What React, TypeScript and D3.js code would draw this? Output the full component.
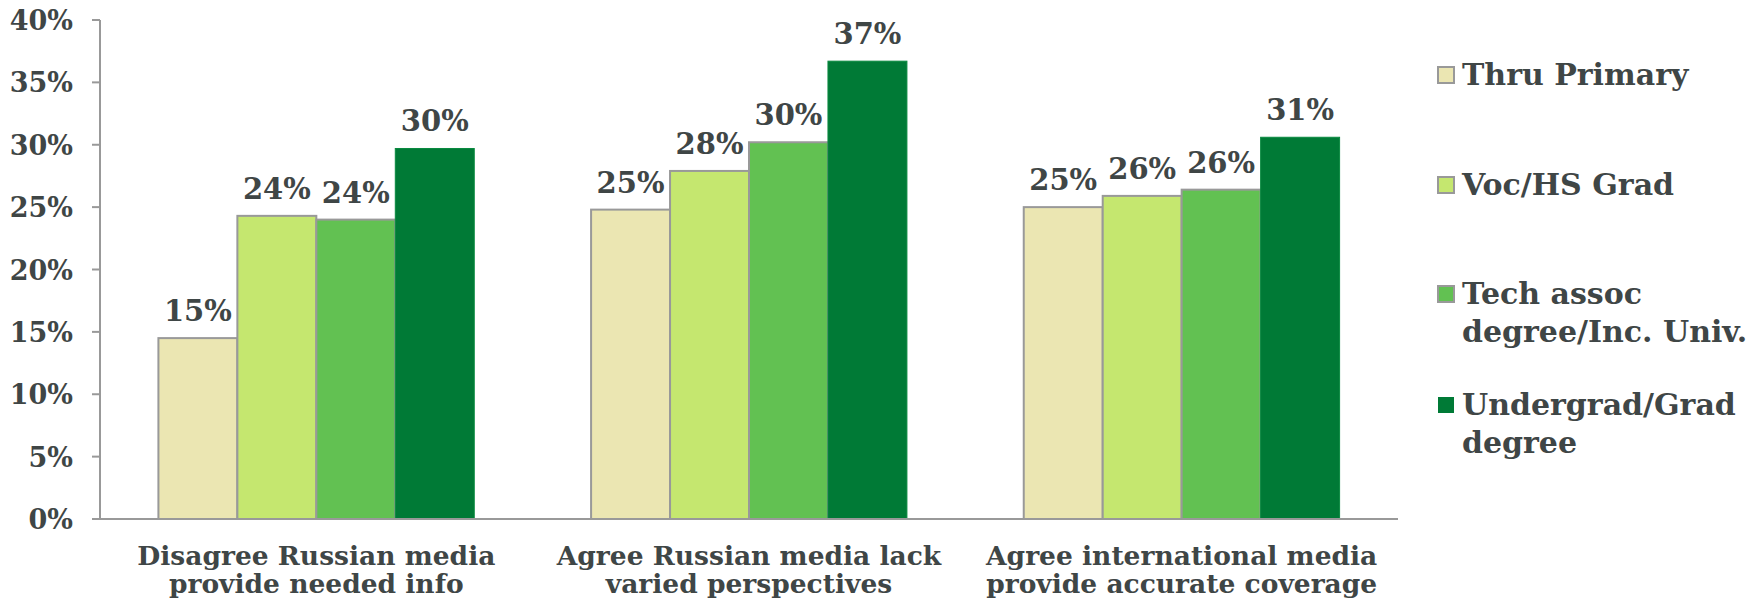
import React from "react";
import * as d3 from "d3";

const categories = [
  ["Disagree Russian media", "provide needed info"],
  ["Agree Russian media lack", "varied perspectives"],
  ["Agree international media", "provide accurate coverage"],
];
const seriesNames = [
  ["Thru Primary"],
  ["Voc/HS Grad"],
  ["Tech assoc", "degree/Inc. Univ."],
  ["Undergrad/Grad", "degree"],
];
const seriesColors = ["#ebe6b2", "#c5e76f", "#62c152", "#007a36"];
const seriesStroke = ["#999999", "#999999", "#999999", "#0a8a40"];
const values = [
  [14.5, 24.3, 24.0, 29.7],
  [24.8, 27.9, 30.2, 36.7],
  [25.0, 25.9, 26.4, 30.6],
];
const labels = [
  ["15%", "24%", "24%", "30%"],
  ["25%", "28%", "30%", "37%"],
  ["25%", "26%", "26%", "31%"],
];
const yTicks = [0, 5, 10, 15, 20, 25, 30, 35, 40];

const W = 1761;
const H = 604;
const left = 100;
const right = 1398;
const top = 20;
const bottom = 519;
const textColor = "#3f4646";
const font = "'DejaVu Serif', Georgia, serif";

export default function App() {
  const y = d3.scaleLinear().domain([0, 40]).range([bottom, top]);
  const x0 = d3
    .scaleBand<number>()
    .domain(d3.range(categories.length))
    .range([left, right])
    .paddingInner(0.27)
    .paddingOuter(0.135);
  const x1 = d3
    .scaleBand<number>()
    .domain(d3.range(seriesNames.length))
    .range([0, x0.bandwidth()]);

  const legendY = [85, 195, 304, 415];

  return (
    <svg
      width={W}
      height={H}
      style={{ position: "absolute", left: 0, top: 0, background: "#fff" }}
      fontFamily={font}
      fontWeight="bold"
    >
      {/* y axis */}
      <line x1={left} x2={left} y1={top} y2={bottom} stroke="#999" strokeWidth={2} />
      {yTicks.map((t) => (
        <g key={t}>
          <line x1={left - 8} x2={left} y1={y(t)} y2={y(t)} stroke="#999" strokeWidth={2} />
          <text
            x={73}
            y={y(t) + 10}
            textAnchor="end"
            fontSize={27}
            fill={textColor}
          >
            {t}%
          </text>
        </g>
      ))}
      {/* bars */}
      {values.map((row, ci) => (
        <g key={ci} transform={`translate(${x0(ci)},0)`}>
          {row.map((v, si) => (
            <g key={si}>
              <rect
                x={x1(si)!}
                y={y(v)}
                width={x1.bandwidth()}
                height={y(0) - y(v)}
                fill={seriesColors[si]}
                stroke={seriesStroke[si]}
                strokeWidth={si === 3 ? 1 : 2}
              />
              <text
                x={x1(si)! + x1.bandwidth() / 2}
                y={y(v) - 17}
                textAnchor="middle"
                fontSize={29}
                fill={textColor}
              >
                {labels[ci][si]}
              </text>
            </g>
          ))}
        </g>
      ))}
      {/* x axis */}
      <line x1={left - 8} x2={right} y1={bottom} y2={bottom} stroke="#999" strokeWidth={2} />
      {categories.map((lines, ci) => (
        <text
          key={ci}
          x={x0(ci)! + x0.bandwidth() / 2}
          textAnchor="middle"
          fontSize={26.5}
          fill={textColor}
        >
          {lines.map((l, li) => (
            <tspan key={li} x={x0(ci)! + x0.bandwidth() / 2} y={565 + li * 28}>
              {l}
            </tspan>
          ))}
        </text>
      ))}
      {/* legend */}
      {seriesNames.map((lines, si) => (
        <g key={si}>
          <rect
            x={1438}
            y={legendY[si] - 18}
            width={16}
            height={16}
            fill={seriesColors[si]}
            stroke={si === 3 ? "none" : "#999"}
            strokeWidth={2}
          />
          <text fontSize={30} fill={textColor}>
            {lines.map((l, li) => (
              <tspan key={li} x={1462} y={legendY[si] + li * 38}>
                {l}
              </tspan>
            ))}
          </text>
        </g>
      ))}
    </svg>
  );
}
